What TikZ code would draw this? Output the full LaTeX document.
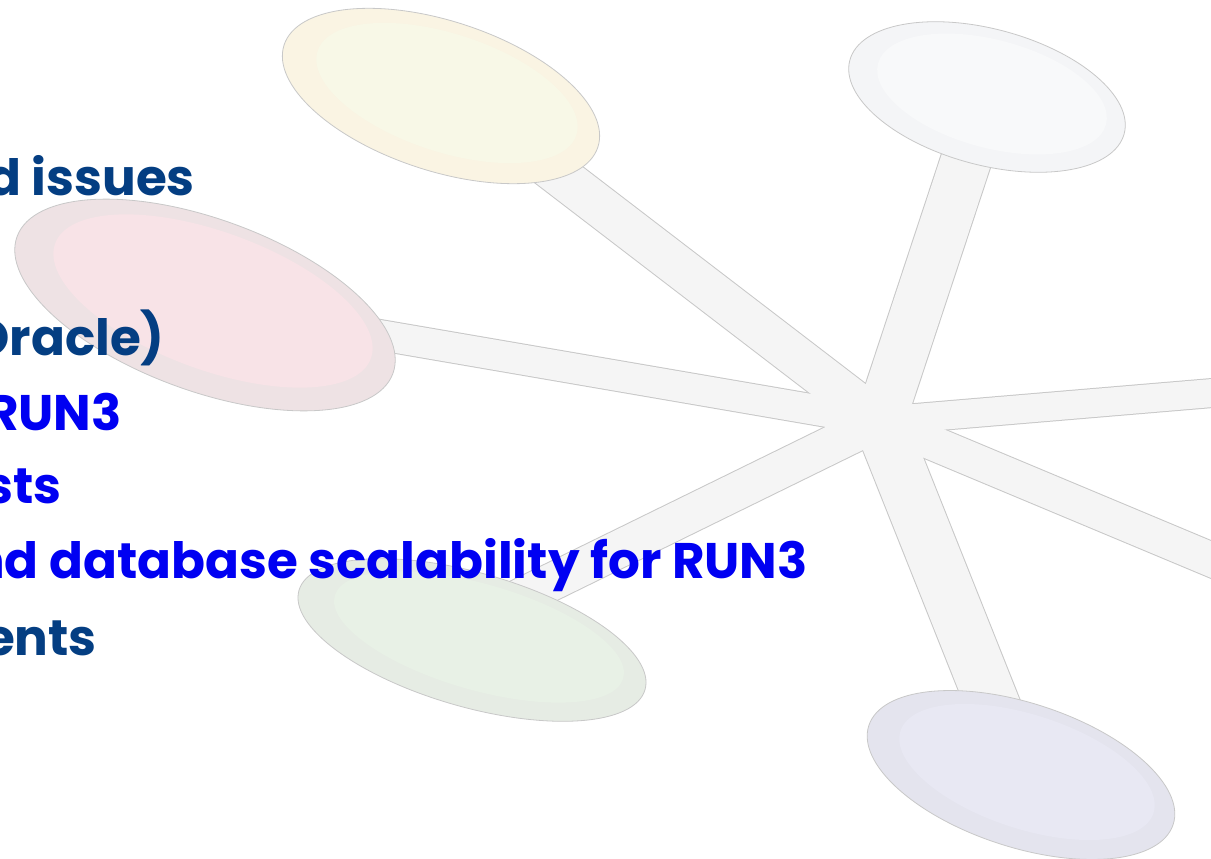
\documentclass[tikz,border=0pt]{standalone}
\usepackage{fontspec}
\newfontfamily\slidefont{Poppins}
\usetikzlibrary{shapes.geometric, backgrounds}

\definecolor{rimGrey}{HTML}{C8C8C8}
\definecolor{spokeFill}{HTML}{F5F5F5}
\definecolor{navyText}{HTML}{043E82}
\definecolor{brightBlue}{HTML}{0000F2}
\definecolor{creamRim}{HTML}{FAF4E3}
\definecolor{creamCore}{HTML}{F8F8E7}
\definecolor{mistRim}{HTML}{F4F5F7}
\definecolor{mistCore}{HTML}{F8F9FA}
\definecolor{roseRim}{HTML}{EEE2E4}
\definecolor{roseCore}{HTML}{F8E3E7}
\definecolor{sageRim}{HTML}{E6ECE4}
\definecolor{sageCore}{HTML}{E8F1E6}
\definecolor{lilacRim}{HTML}{E4E4EE}
\definecolor{lilacCore}{HTML}{E8E8F3}

\begin{document}
\begin{tikzpicture}[x=1pt, y=-1pt,
    bubble/.style={ellipse, draw=rimGrey, line width=0.8pt, inner sep=0pt},
    core/.style={ellipse, inner sep=0pt},
    navyline/.style={font=\slidefont\bfseries\fontsize{50}{60}\selectfont,
        text=navyText, anchor=base east, inner sep=0pt},
    blueline/.style={navyline, text=brightBlue}]

    \useasboundingbox (0,0) rectangle (1211,859);
    \clip (0,0) rectangle (1211,859);

    % Hub and the two spokes that run off the right edge
    \coordinate (hub) at (880,421);
    \coordinate (eastA) at (1260,389);
    \coordinate (eastB) at (1260,580);

    % Bubbles
    \node[bubble, fill=creamRim, minimum width=330pt, minimum height=150pt, rotate=-18] (yellow) at (441,96) {};
    \node[core, fill=creamCore, minimum width=272pt, minimum height=118pt, rotate=-18] (yellowcore) at ([shift={(6,-3)}]yellow.center) {};

    \node[bubble, fill=mistRim, minimum width=284pt, minimum height=136pt, rotate=-15] (mist) at (987,97) {};
    \node[core, fill=mistCore, minimum width=236pt, minimum height=108pt, rotate=-15] (mistcore) at ([shift={(5,-3)}]mist.center) {};

    \node[bubble, fill=roseRim, minimum width=400pt, minimum height=172pt, rotate=-20] (rose) at (205,305) {};
    \node[core, fill=roseCore, minimum width=336pt, minimum height=138pt, rotate=-20] (rosecore) at ([shift={(8,-4)}]rose.center) {};

    \node[bubble, fill=sageRim, minimum width=360pt, minimum height=134pt, rotate=-16] (sage) at (472,640) {};
    \node[core, fill=sageCore, minimum width=300pt, minimum height=106pt, rotate=-16] (sagecore) at ([shift={(7,-3)}]sage.center) {};

    \node[bubble, fill=lilacRim, minimum width=320pt, minimum height=144pt, rotate=-18] (lilac) at (1021,775) {};
    \node[core, fill=lilacCore, minimum width=266pt, minimum height=114pt, rotate=-18] (lilaccore) at ([shift={(6,-3)}]lilac.center) {};

    % where the spokes end under the bubbles
    \coordinate (yellowend) at ([shift={(15,0)}]yellow.center);
    \coordinate (sageend) at ([shift={(0,-19)}]sage.center);

    % Spokes behind the bubbles: grey rims first, then the fills
    \begin{scope}[on background layer]
        \clip (0,0) rectangle (1211,859);
        \fill[white] (0,0) rectangle (1211,859);
        \foreach \to/\w in {yellowend/43, mist/52, rose/32, eastA/30, eastB/36, lilac/55, sageend/39}
            \draw[rimGrey, line width=\w pt, line cap=round] (hub) -- (\to.center);
        \foreach \to/\w in {yellowend/41, mist/50, rose/30, eastA/28, eastB/34, lilac/53, sageend/37}
            \draw[spokeFill, line width=\w pt, line cap=round] (hub) -- (\to.center);
    \end{scope}

    % Text lines
    \node[navyline] (issues) at (195,195) {d issues};
    \node[navyline] (oracle) at (165,355) {Oracle)};
    \node[blueline] (runthree) at (122,430) {RUN3};
    \node[blueline] (tests) at (62,503) {sts};
    \node[blueline] (scaling) at (808,578) {nd database scalability for RUN3};
    \node[navyline] (ments) at (97,655) {ents};

\end{tikzpicture}
\end{document}
